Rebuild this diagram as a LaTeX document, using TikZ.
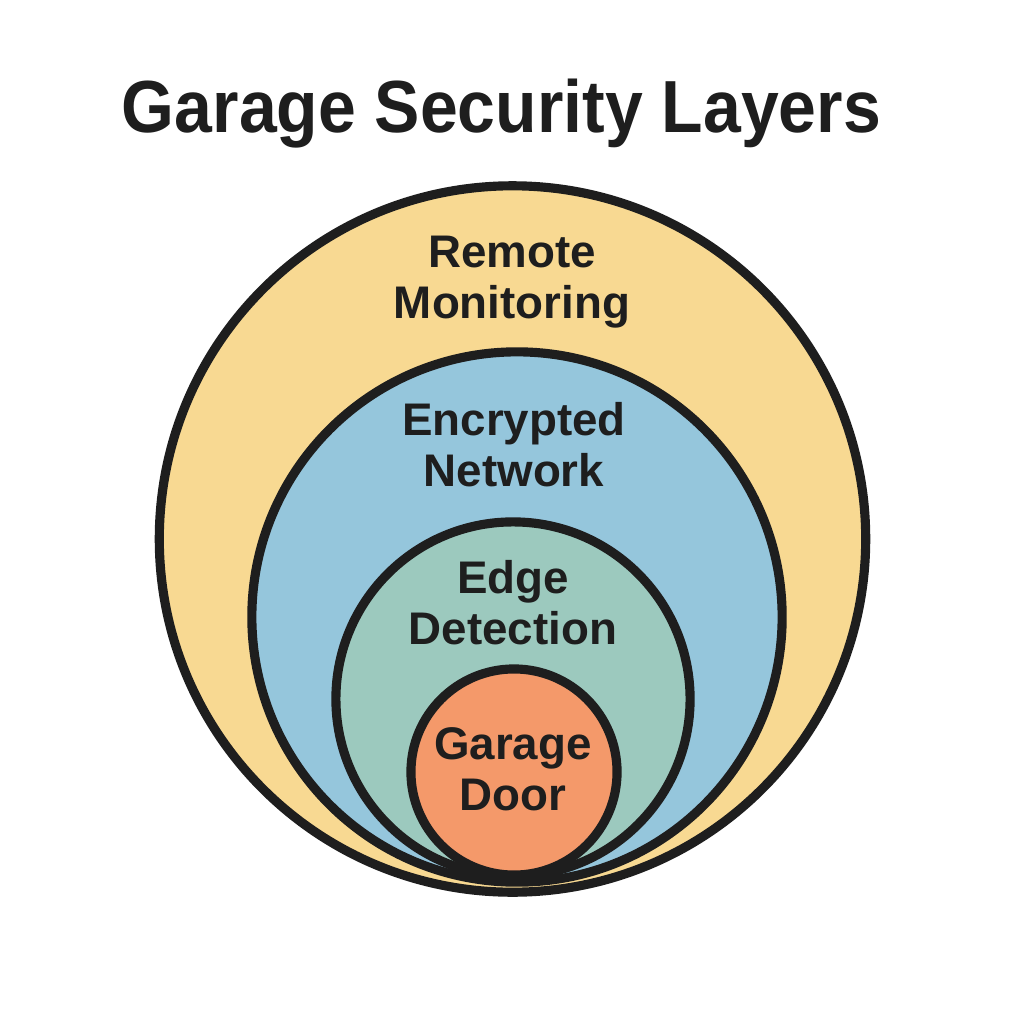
\documentclass[tikz,border=0pt]{standalone}
\usepackage{fontspec}
\setmainfont{Liberation Sans}
\usepackage{graphicx}

\definecolor{remotefill}{HTML}{F8D992}
\definecolor{networkfill}{HTML}{95C6DC}
\definecolor{edgefill}{HTML}{9CC9BE}
\definecolor{doorfill}{HTML}{F4996A}
\definecolor{inkdark}{HTML}{1E1E1E}

\tikzset{
    layer/.style={draw=inkdark, circle, line width=2.6pt, inner sep=0pt},
    layerlabel/.style={anchor=north, inner sep=0pt, align=center, text=inkdark,
        font=\fontsize{13}{14.5}\selectfont\bfseries},
}

\begin{document}
\begin{tikzpicture}[x=0.01cm, y=-0.01cm]
    \useasboundingbox (0,0) rectangle (1024,1024);
    \node (title) at (501.5,133) [anchor=base, inner sep=0pt, text=inkdark,
        font=\fontsize{21}{25}\selectfont\bfseries] {\scalebox{0.92}[1]{Garage Security Layers}};
    \node (remote) at (512.5,539) [layer, fill=remotefill, minimum size=7.06cm] {};
    \node (network) at (517,617) [layer, fill=networkfill, minimum size=5.30cm] {};
    \node (edge) at (513,699) [layer, fill=edgefill, minimum size=3.54cm] {};
    \node (door) at (514,772) [layer, fill=doorfill, minimum size=2.06cm] {};
    \node (remotelabel) at (512,235) [layerlabel] {Remote\\Monitoring};
    \node (networklabel) at (514,402) [layerlabel] {Encrypted\\Network};
    \node (edgelabel) at (513,560) [layerlabel] {Edge\\Detection};
    \node (doorlabel) at (513,727) [layerlabel] {Garage\\Door};
\end{tikzpicture}
\end{document}
